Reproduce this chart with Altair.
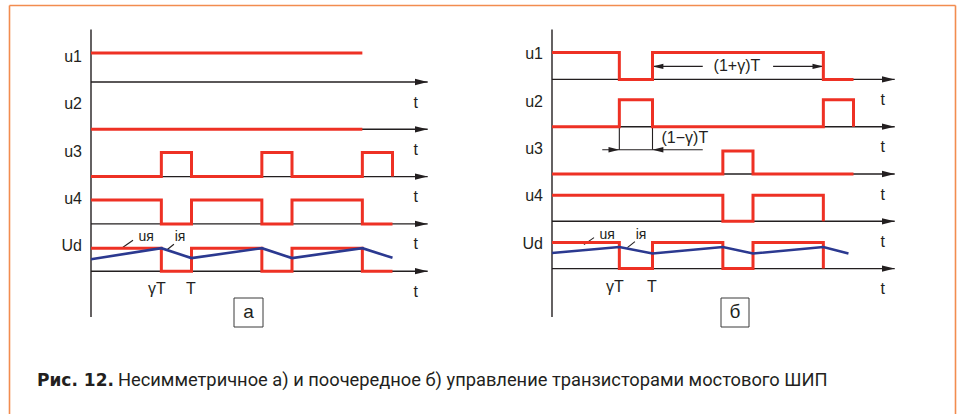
import altair as alt
import pandas as pd

# ---------------------------------------------------------------------------
# Waveforms.  Time is measured in periods T; every switching instant is
# followed by the level (0 = low, 1 = high) held until the next instant.
# ---------------------------------------------------------------------------
SIGNALS = ["u1", "u2", "u3", "u4", "Ud"]

# panel "а": asymmetric control
A_U1_T = [0.0, 2.7]
A_U1_V = [1, 1]
A_U2_T = [0.0, 2.7]
A_U2_V = [0, 0]
A_U3_T = [0.0, 0.7, 1.0, 1.7, 2.0, 2.7, 3.0]
A_U3_V = [0, 1, 0, 1, 0, 1, 0]
A_U4_T = [0.0, 0.7, 1.0, 1.7, 2.0, 2.7, 3.0]
A_U4_V = [1, 0, 1, 0, 1, 0, 0]
A_UD_T = [0.0, 0.7, 1.0, 1.7, 2.0, 2.7, 3.0]
A_UD_V = [1, 0, 1, 0, 1, 0, 0]
# armature current iя, relative to the Ud pulse height
A_I_T = [0.0, 0.7, 1.0, 1.7, 2.0, 2.7, 3.0]
A_I_V = [0.52, 1.0, 0.57, 1.0, 0.57, 1.0, 0.58]

# panel "б": alternating control
B_U1_T = [0.0, 0.67, 1.0, 2.7, 3.0]
B_U1_V = [1, 0, 1, 0, 0]
B_U2_T = [0.0, 0.67, 1.0, 2.7, 3.0]
B_U2_V = [0, 1, 0, 1, 0]
B_U3_T = [0.0, 1.7, 2.0, 3.0]
B_U3_V = [0, 1, 0, 0]
B_U4_T = [0.0, 1.7, 2.0, 2.7]
B_U4_V = [1, 0, 1, 0]
B_UD_T = [0.0, 0.67, 1.0, 1.7, 2.0, 2.7]
B_UD_V = [1, 0, 1, 0, 1, 0]
B_I_T = [0.0, 0.67, 1.0, 1.7, 2.0, 2.7, 2.95]
B_I_V = [0.60, 0.83, 0.58, 0.83, 0.58, 0.83, 0.58]

# instants named under the Ud axis
A_MARK_TEXT = ["γT", "T"]
A_MARK_T = [0.7, 1.0]
B_MARK_TEXT = ["γT", "T"]
B_MARK_T = [0.67, 1.0]

# dimension arrows of panel "б"
DIM_LONG_TEXT = "(1+γ)T"
DIM_LONG_T = [1.0, 2.7]
DIM_SHORT_TEXT = "(1−γ)T"
DIM_SHORT_T = [0.67, 1.0]

PANEL_NAMES = {"a": "а", "b": "б"}
CAPTION_BOLD = "Рис.\u00a012."
CAPTION_TEXT = ("Несимметричное а) и поочередное б) управление "
                "транзисторами мостового ШИП")

# ---------------------------------------------------------------------------
# Layout and style
# ---------------------------------------------------------------------------
W, H = 959, 414
T_PX = 100.5           # one period on the time axis
ROW_PX = 47.3          # spacing of neighbouring time axes
X0_PX, Y0_PX = 91, 82  # origin of the first panel
PANEL_DX = {"a": 0.0, "b": (552 - 91) / T_PX}
PANEL_DY = {"a": 0.0, "b": 2.6 / ROW_PX}
AXIS_LEN = {"a": 3.35, "b": 3.41}
PULSE_PX = {"a": {"u1": 29, "u2": 24, "u3": 24, "u4": 24, "Ud": 23},
            "b": {"u1": 27, "u2": 27, "u3": 23, "u4": 26, "Ud": 26}}

RED = "#ee3124"
BLUE = "#2b3990"
INK = "#231f20"
FRAME = "#f28c4f"
FONT = "Liberation Sans"
ARROW = "M0,0L-2,-0.5L-2,0.5Z"

X_SCALE = alt.Scale(domain=[-X0_PX / T_PX, (W - X0_PX) / T_PX], nice=False, zero=False)
Y_SCALE = alt.Scale(domain=[-(H - Y0_PX) / ROW_PX, Y0_PX / ROW_PX], nice=False, zero=False)


def ypos(panel, row, rise_px=0.0):
    return -row + PANEL_DY[panel] + rise_px / ROW_PX


def X(field="x"):
    return alt.X(f"{field}:Q", scale=X_SCALE, axis=None)


def Y(field="y"):
    return alt.Y(f"{field}:Q", scale=Y_SCALE, axis=None)


WAVES = {
    "a": {"u1": (A_U1_T, A_U1_V), "u2": (A_U2_T, A_U2_V), "u3": (A_U3_T, A_U3_V),
          "u4": (A_U4_T, A_U4_V), "Ud": (A_UD_T, A_UD_V)},
    "b": {"u1": (B_U1_T, B_U1_V), "u2": (B_U2_T, B_U2_V), "u3": (B_U3_T, B_U3_V),
          "u4": (B_U4_T, B_U4_V), "Ud": (B_UD_T, B_UD_V)},
}
CURRENT = {"a": (A_I_T, A_I_V), "b": (B_I_T, B_I_V)}
MARKS = {"a": (A_MARK_TEXT, A_MARK_T), "b": (B_MARK_TEXT, B_MARK_T)}

wave_rows, cur_rows, axis_rows, head_rows = [], [], [], []
sig_labels, t_labels, mark_labels, small_labels = [], [], [], []
for p in ("a", "b"):
    dx = PANEL_DX[p]
    for r, s in enumerate(SIGNALS):
        ts, vs = WAVES[p][s]
        for i, (t, v) in enumerate(zip(ts, vs)):
            wave_rows.append({"key": f"{p}-{s}", "i": i, "x": dx + t,
                              "y": ypos(p, r, v * PULSE_PX[p][s])})
        y0 = ypos(p, r)
        axis_rows.append({"x": dx, "x2": dx + AXIS_LEN[p], "y": y0, "y2": y0})
        head_rows.append({"x": dx + AXIS_LEN[p], "y": y0, "angle": 0})
        sig_labels.append({"x": dx, "y": ypos(p, r, 25), "text": s})
        t_labels.append({"x": dx + AXIS_LEN[p] - 0.12, "y": ypos(p, r, -20.5), "text": "t"})
    axis_rows.append({"x": dx, "x2": dx, "y": 1.11, "y2": -4.97})
    ts, vs = CURRENT[p]
    for i, (t, v) in enumerate(zip(ts, vs)):
        cur_rows.append({"key": p, "i": i, "x": dx + t,
                         "y": ypos(p, 4, v * PULSE_PX[p]["Ud"])})
    for txt, t in zip(*MARKS[p]):
        shift = -0.045 if txt != "T" else -0.005
        mark_labels.append({"x": dx + t + shift, "y": ypos(p, 4, -18), "text": txt})
    small_labels.append({"x": dx + 0.55, "y": ypos(p, 4, 30), "text": "uя"})
    small_labels.append({"x": dx + 0.886, "y": ypos(p, 4, 30), "text": "iя"})

# leader lines of the uя / iя labels and dimension lines of panel "б"
thin_rows = []
for p in ("a", "b"):
    dx = PANEL_DX[p]
    thin_rows.append({"x": dx + 0.318, "x2": dx + 0.418, "y": ypos(p, 4, 24), "y2": ypos(p, 4, 31)})
    thin_rows.append({"x": dx + 0.75, "x2": dx + 0.825, "y": ypos(p, 4, 21), "y2": ypos(p, 4, 27)})

bx = PANEL_DX["b"]
y_long = ypos("b", 0, 13)
thin_rows.append({"x": bx + DIM_LONG_T[0], "x2": bx + 1.5, "y": y_long, "y2": y_long})
thin_rows.append({"x": bx + 2.2, "x2": bx + DIM_LONG_T[1], "y": y_long, "y2": y_long})
y_short = ypos("b", 1, -23)
thin_rows.append({"x": bx + 0.5, "x2": bx + 1.5, "y": y_short, "y2": y_short})
for t in DIM_SHORT_T:
    thin_rows.append({"x": bx + t, "x2": bx + t, "y": ypos("b", 1), "y2": y_short})

dim_heads = [
    {"x": bx + DIM_LONG_T[0], "y": y_long, "angle": 180},
    {"x": bx + DIM_LONG_T[1], "y": y_long, "angle": 0},
    {"x": bx + DIM_SHORT_T[0], "y": y_short, "angle": 0},
    {"x": bx + DIM_SHORT_T[1], "y": y_short, "angle": 180},
]
dim_labels = pd.DataFrame([
    {"x": bx + 1.84, "y": y_long, "text": DIM_LONG_TEXT},
])
dim_labels_left = pd.DataFrame([
    {"x": bx + 1.09, "y": ypos("b", 1, -11.5), "text": DIM_SHORT_TEXT},
])

# ---------------------------------------------------------------------------
# Layers
# ---------------------------------------------------------------------------
axes = alt.Chart(pd.DataFrame(axis_rows)).mark_rule(color=INK, strokeWidth=1.4).encode(
    x=X(), x2="x2:Q", y=Y(), y2="y2:Q")

thin = alt.Chart(pd.DataFrame(thin_rows)).mark_rule(color=INK, strokeWidth=1.1).encode(
    x=X(), x2="x2:Q", y=Y(), y2="y2:Q")

heads = alt.Chart(pd.DataFrame(head_rows)).mark_point(
    shape=ARROW, filled=True, size=161, color=INK, opacity=1, strokeWidth=0).encode(
    x=X(), y=Y(), angle=alt.Angle("angle:Q", scale=None))

dheads = alt.Chart(pd.DataFrame(dim_heads)).mark_point(
    shape=ARROW, filled=True, size=118, color=INK, opacity=1, strokeWidth=0).encode(
    x=X(), y=Y(), angle=alt.Angle("angle:Q", scale=None))

waves = alt.Chart(pd.DataFrame(wave_rows)).mark_line(
    interpolate="step-after", color=RED, strokeWidth=3, strokeJoin="miter").encode(
    x=X(), y=Y(), detail="key:N", order="i:Q")

current = alt.Chart(pd.DataFrame(cur_rows)).mark_line(
    color=BLUE, strokeWidth=2.6, strokeJoin="miter").encode(
    x=X(), y=Y(), detail="key:N", order="i:Q")

txt16 = dict(font=FONT, fontSize=16, color=INK)
sig_text = alt.Chart(pd.DataFrame(sig_labels)).mark_text(
    align="right", baseline="middle", dx=-9, **txt16).encode(x=X(), y=Y(), text="text:N")
t_text = alt.Chart(pd.DataFrame(t_labels)).mark_text(
    align="center", baseline="middle", **txt16).encode(x=X(), y=Y(), text="text:N")
mark_text = alt.Chart(pd.DataFrame(mark_labels)).mark_text(
    align="center", baseline="middle", **txt16).encode(x=X(), y=Y(), text="text:N")
small_text = alt.Chart(pd.DataFrame(small_labels)).mark_text(
    align="center", baseline="alphabetic", font=FONT, fontSize=14, color=INK).encode(
    x=X(), y=Y(), text="text:N")
dim_text = alt.Chart(dim_labels).mark_text(
    align="center", baseline="middle", **txt16).encode(x=X(), y=Y(), text="text:N")
dim_text_left = alt.Chart(dim_labels_left).mark_text(
    align="left", baseline="middle", **txt16).encode(x=X(), y=Y(), text="text:N")

one = pd.DataFrame({"k": [0]})

# panel letters in small boxes
boxes = []
for name, (x1, x2) in zip(["a", "b"], [(234, 263), (721, 749)]):
    boxes.append(alt.Chart(one).mark_rect(
        fill="white", stroke="#3a3a3a", strokeWidth=1).encode(
        x=alt.value(x1), x2=alt.value(x2), y=alt.value(298), y2=alt.value(327)))
    boxes.append(alt.Chart(one).mark_text(
        font=FONT, fontSize=19, color=INK, align="center", baseline="middle").encode(
        x=alt.value((x1 + x2) / 2), y=alt.value(312), text=alt.value(PANEL_NAMES[name])))

# orange frame (open at the bottom)
frame = [
    alt.Chart(one).mark_rule(color=FRAME, strokeWidth=1.6).encode(
        x=alt.value(9.5), y=alt.value(5.5), y2=alt.value(H)),
    alt.Chart(one).mark_rule(color=FRAME, strokeWidth=1.6).encode(
        x=alt.value(955.5), y=alt.value(5.5), y2=alt.value(H)),
    alt.Chart(one).mark_rule(color=FRAME, strokeWidth=1.6).encode(
        x=alt.value(9.5), x2=alt.value(955.5), y=alt.value(5.5)),
]

caption = [
    alt.Chart(one).mark_text(font="DejaVu Sans", fontSize=17, fontWeight="bold", color=INK,
                             align="left", baseline="alphabetic").encode(
        x=alt.value(37), y=alt.value(386), text=alt.value(CAPTION_BOLD)),
    alt.Chart(one).mark_text(font="Roboto", fontSize=18.3, color=INK,
                             align="left", baseline="alphabetic").encode(
        x=alt.value(118), y=alt.value(386), text=alt.value(CAPTION_TEXT)),
]

chart = alt.layer(
    *frame, axes, thin, heads, dheads, waves, current,
    sig_text, t_text, mark_text, small_text, dim_text, dim_text_left,
    *boxes, *caption,
).properties(
    width=W, height=H, autosize=alt.AutoSizeParams(type="none"), padding=0,
    background="white",
).configure_view(stroke=None)

chart.save("out.html", embed_options={"renderer": "svg", "actions": False})
